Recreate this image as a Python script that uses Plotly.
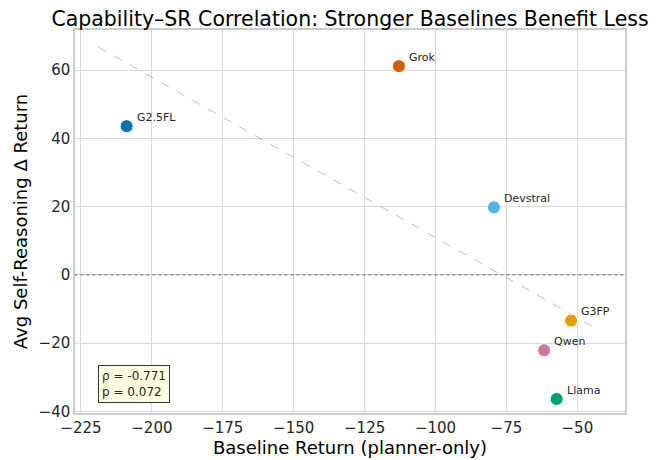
import numpy as np
import plotly.graph_objects as go

models = ["G2.5FL", "Grok", "Devstral", "G3FP", "Qwen", "Llama"]
baseline_return = [-208.9, -112.9, -79.4, -52.2, -61.7, -57.3]
sr_delta = [43.6, 61.2, 19.8, -13.4, -22.1, -36.4]
colors = ["#0072B2", "#D55E00", "#56B4E9", "#E69F00", "#CC79A7", "#009E73"]
x_ticks = [-225, -200, -175, -150, -125, -100, -75, -50]
y_ticks = [-40, -20, 0, 20, 40, 60]
stats_text = "ρ = -0.771<br>p = 0.072"

x = np.array(baseline_return)
y = np.array(sr_delta)
slope, intercept = np.polyfit(x, y, 1)
lx = np.array([x.min() - 10, x.max() + 10])
ly = slope * lx + intercept

fig = go.Figure()
fig.add_trace(go.Scatter(x=[-240, -20], y=[0, 0], mode="lines",
                         line=dict(color="black", width=0.6, dash="dot"),
                         showlegend=False, hoverinfo="skip"))
fig.add_trace(go.Scatter(x=lx, y=ly, mode="lines",
                         line=dict(color="rgba(128,128,128,0.5)", width=1, dash="dash"),
                         showlegend=False))
fig.add_trace(go.Scatter(x=baseline_return, y=sr_delta, mode="markers",
                         marker=dict(color=colors, size=13, line=dict(color="white", width=1)),
                         showlegend=False))

for m, xv, yv in zip(models, baseline_return, sr_delta):
    fig.add_annotation(x=xv, y=yv, text=m, showarrow=False, xanchor="left", yanchor="middle",
                       xshift=8, yshift=9, font=dict(size=11, color="#262626"))

fig.add_annotation(xref="paper", yref="paper", x=0.041, y=0.025, xanchor="left", yanchor="bottom",
                   text=stats_text, align="left", showarrow=False,
                   font=dict(size=12, color="#262626"),
                   bgcolor="#FFFFE0", bordercolor="#333333", borderwidth=1, borderpad=3)

axis_common = dict(showgrid=True, gridcolor="#d9d9d9", gridwidth=1, zeroline=False,
                   showline=True, linecolor="#cccccc", linewidth=1.5, mirror=True,
                   ticks="", tickfont=dict(size=15, color="#262626"), automargin=False)

fig.update_layout(
    width=649, height=452,
    margin=dict(l=67, r=32, t=22, b=47),
    paper_bgcolor="white", plot_bgcolor="white",
    font=dict(family="DejaVu Sans", color="#262626"),
    title=dict(text="Capability–SR Correlation: Stronger Baselines Benefit Less",
               x=0.5, xref="paper", xanchor="center", y=0.975, yanchor="middle",
               font=dict(size=20.5, color="black"), automargin=False),
    xaxis=dict(range=[-227.1, -33.2], tickvals=x_ticks,
               title=dict(text="Baseline Return (planner-only)", font=dict(size=18, color="black"), standoff=4),
               **axis_common),
    yaxis=dict(range=[-40.5, 71.8], tickvals=y_ticks,
               title=dict(text="Avg Self-Reasoning Δ Return", font=dict(size=18, color="black"), standoff=6),
               **axis_common),
)

fig.write_html("out.html")
